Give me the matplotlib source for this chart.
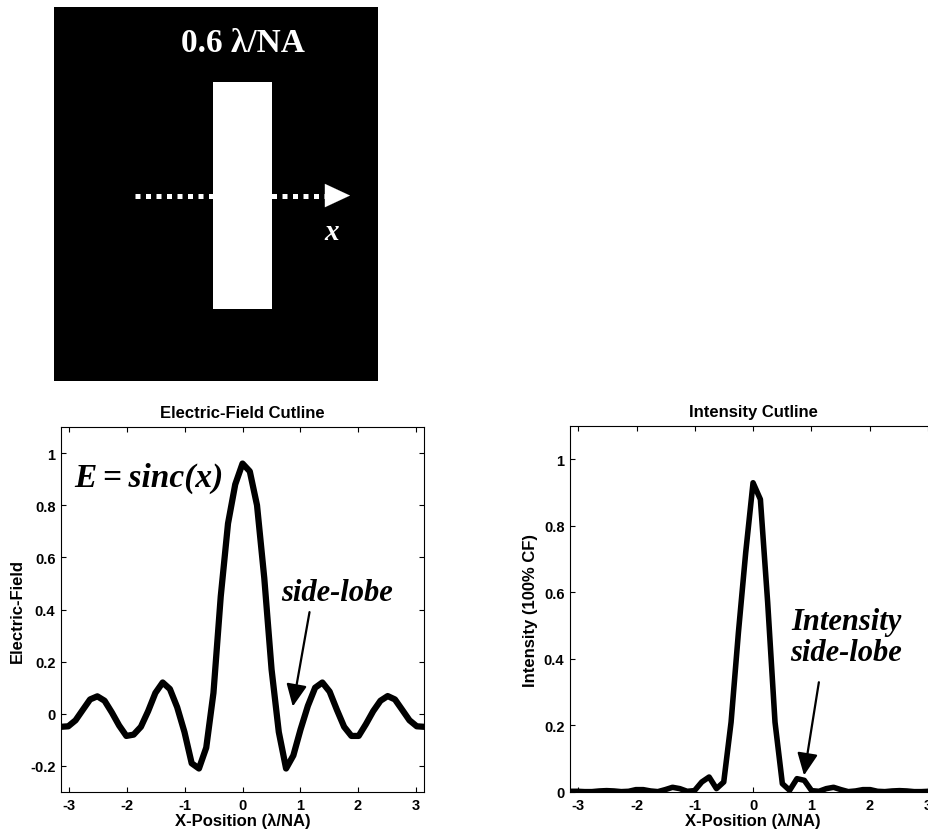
import numpy as np
import matplotlib
matplotlib.use('Agg')
import matplotlib.pyplot as plt
from matplotlib.patches import Rectangle

plt.rcParams['font.family'] = ['Liberation Sans', 'DejaVu Sans']
plt.rcParams['font.weight'] = 'bold'
plt.rcParams['axes.linewidth'] = 0.8

# sample positions along the cutline (lambda/NA)
x_pos = [-3.142, -3.016, -2.890, -2.765, -2.639, -2.513, -2.388, -2.262, -2.136,
         -2.011, -1.885, -1.759, -1.634, -1.508, -1.382, -1.257, -1.131, -1.005,
         -0.880, -0.754, -0.628, -0.503, -0.377, -0.251, -0.126, 0.000,
         0.126, 0.251, 0.377, 0.503, 0.628, 0.754, 0.880, 1.005, 1.131, 1.257,
         1.382, 1.508, 1.634, 1.759, 1.885, 2.011, 2.136, 2.262, 2.388, 2.513,
         2.639, 2.765, 2.890, 3.016, 3.142]

e_field = [-0.050, -0.048, -0.025, 0.015, 0.055, 0.067, 0.050, 0.005, -0.045,
           -0.085, -0.080, -0.050, 0.010, 0.080, 0.120, 0.095, 0.025, -0.070,
           -0.190, -0.210, -0.130, 0.080, 0.450, 0.730, 0.880, 0.960,
           0.930, 0.800, 0.520, 0.170, -0.070, -0.210, -0.160, -0.060, 0.030, 0.100,
           0.120, 0.085, 0.015, -0.050, -0.085, -0.085, -0.040, 0.010, 0.050, 0.068,
           0.055, 0.015, -0.025, -0.048, -0.050]

intensity = [0.002, 0.002, 0.001, 0.001, 0.003, 0.004, 0.003, 0.001, 0.002,
             0.007, 0.007, 0.003, 0.001, 0.007, 0.014, 0.010, 0.002, 0.004,
             0.030, 0.045, 0.010, 0.030, 0.210, 0.480, 0.720, 0.930,
             0.880, 0.570, 0.210, 0.025, 0.005, 0.040, 0.035, 0.004, 0.002, 0.010,
             0.014, 0.007, 0.001, 0.003, 0.007, 0.007, 0.002, 0.001, 0.003, 0.004,
             0.003, 0.001, 0.001, 0.002, 0.002]

x_ticks = [-3, -2, -1, 0, 1, 2, 3]
e_ticks = [-0.2, 0, 0.2, 0.4, 0.6, 0.8, 1]
e_ticklabels = ['-0.2', '0', '0.2', '0.4', '0.6', '0.8', '1']
i_ticks = [0, 0.2, 0.4, 0.6, 0.8, 1]
i_ticklabels = ['0', '0.2', '0.4', '0.6', '0.8', '1']

# mask (units of lambda/NA)
slit_width = 0.6
slit_height = 2.31
cut_start, cut_end = -1.094, 1.094

serif = ['Liberation Serif', 'DejaVu Serif']

fig = plt.figure(figsize=(9.29, 8.37), dpi=100)

# --- mask picture
ax0 = fig.add_axes([0.0581, 0.5436, 0.3488, 0.4468])
ax0.set_facecolor('black')
ax0.set_xlim(-1.918, 1.378)
ax0.set_ylim(-1.887, 1.918)
ax0.set_xticks([])
ax0.set_yticks([])
for s in ax0.spines.values():
    s.set_visible(False)
ax0.plot([cut_start, cut_end - 0.2], [0, 0], color='white', lw=3.6,
         linestyle=(0, (1, 1.1)), dash_capstyle='butt', zorder=1)
ax0.add_patch(Rectangle((-slit_width / 2, -slit_height / 2), slit_width, slit_height,
                        facecolor='white', edgecolor='none', zorder=2))
ax0.annotate('', xy=(cut_end, 0), xytext=(cut_end - 0.25, 0),
             arrowprops=dict(arrowstyle='-|>,head_length=0.9,head_width=0.42',
                             color='white', lw=0.1, mutation_scale=20,
                             shrinkA=0, shrinkB=0))
ax0.text(0, 1.56, '0.6 λ/NA', color='white', fontsize=24, family=serif,
         fontweight='bold', ha='center', va='center')
ax0.text(0.91, -0.37, 'x', color='white', fontsize=21, family=serif,
         fontstyle='italic', fontweight='bold', ha='center', va='center')


def style_axes(ax):
    ax.tick_params(direction='in', length=3.5, width=0.8, top=True, right=True,
                   labelsize=10.5, pad=4)
    ax.set_xlim(-np.pi, np.pi)
    ax.set_xticks(x_ticks)
    ax.set_xticklabels([str(t) for t in x_ticks])
    ax.set_xlabel('X-Position (λ/NA)', fontsize=12, fontweight='bold', labelpad=1)


# --- electric field
ax1 = fig.add_axes([0.0657, 0.0526, 0.3907, 0.436])
ax1.plot(x_pos, e_field, color='black', lw=4.5)
style_axes(ax1)
ax1.set_ylim(-0.3, 1.1)
ax1.set_yticks(e_ticks)
ax1.set_yticklabels(e_ticklabels)
ax1.set_title('Electric-Field Cutline', fontsize=12, fontweight='bold', pad=7)
ax1.set_ylabel('Electric-Field', fontsize=12, fontweight='bold', labelpad=4)
ax1.text(-2.92, 0.905, 'E\u2009=\u2009sinc(x)', fontsize=24, family=serif,
         fontweight='bold', fontstyle='italic', ha='left', va='center')
ax1.text(1.635, 0.464, 'side-lobe', fontsize=22, family=serif, fontweight='bold',
         fontstyle='italic', ha='center', va='center')
ax1.annotate('', xy=(0.87, 0.028), xytext=(1.16, 0.39),
             arrowprops=dict(arrowstyle='-|>,head_length=0.9,head_width=0.42',
                             color='black', lw=1.6, mutation_scale=15,
                             shrinkA=0, shrinkB=0))

# --- intensity
ax2 = fig.add_axes([0.6136, 0.0526, 0.394, 0.437])
ax2.plot(x_pos, intensity, color='black', lw=4.0)
style_axes(ax2)
ax2.set_ylim(0, 1.1)
ax2.set_yticks(i_ticks)
ax2.set_yticklabels(i_ticklabels)
ax2.set_title('Intensity Cutline', fontsize=12, fontweight='bold', pad=7)
ax2.set_ylabel('Intensity (100% CF)', fontsize=12, fontweight='bold', labelpad=4)
ax2.text(1.60, 0.467, 'Intensity\nside-lobe', fontsize=22, family=serif,
         fontweight='bold', fontstyle='italic', ha='center', va='center',
         linespacing=1.1)
ax2.annotate('', xy=(0.875, 0.05), xytext=(1.13, 0.33),
             arrowprops=dict(arrowstyle='-|>,head_length=0.9,head_width=0.42',
                             color='black', lw=1.6, mutation_scale=15,
                             shrinkA=0, shrinkB=0))

fig.savefig('out.png', dpi=100)
